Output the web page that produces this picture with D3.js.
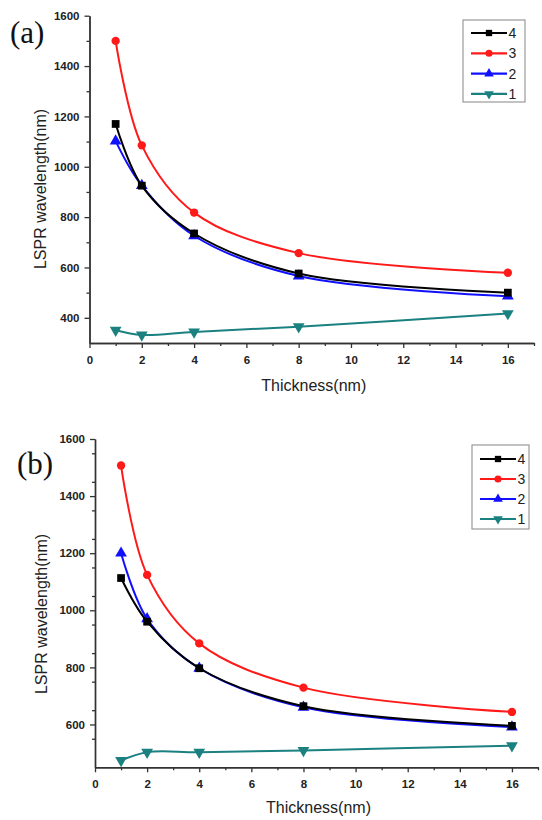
<!DOCTYPE html>
<html>
<head>
<meta charset="utf-8">
<script src="https://cdn.jsdelivr.net/npm/d3@7/dist/d3.min.js"></script>
<style>
  html, body { margin: 0; padding: 0; background: #fff; }
  svg { display: block; }
</style>
</head>
<body>
<svg id="chart" width="542" height="820"></svg>
<script>
// ---- Data ----
const thickness = [1, 2, 4, 8, 16];
const seriesNames = ["4", "3", "2", "1"];
const seriesColors = ["#000000", "#ff1a1a", "#1010ff", "#1a8080"];
const seriesSymbols = ["square", "circle", "triangle", "triangleDown"];

const panelA_4 = [1170, 925, 735, 576, 500];
const panelA_3 = [1500, 1085, 818, 657, 579];
const panelA_2 = [1102, 925, 726, 566, 486];
const panelA_1 = [351, 332, 344, 365, 417];

const panelB_4 = [1113, 960, 797, 664, 595];
const panelB_3 = [1507, 1124, 884, 729, 644];
const panelB_2 = [1200, 970, 797, 660, 591];
const panelB_1 = [474, 503, 503, 509, 526];

const xTicks = [0, 2, 4, 6, 8, 10, 12, 14, 16];
const yTicksA = [400, 600, 800, 1000, 1200, 1400, 1600];
const yTicksB = [600, 800, 1000, 1200, 1400, 1600];

const panels = [
  { label: "(a)", series: [panelA_4, panelA_3, panelA_2, panelA_1], yDomain: [300, 1600], yTicks: yTicksA,
    xRange: [89.5, 534], yRange: [343, 15.7],
    labelPos: [10, 43], legend: { x: 463, y: 20, w: 62, h: 82, row0: 33, dy: 20.3 },
    yLabel: { x: 46, y: 189 }, xLabelY: 391, xTickY: 364 },
  { label: "(b)", series: [panelB_4, panelB_3, panelB_2, panelB_1], yDomain: [450, 1600], yTicks: yTicksB,
    xRange: [95, 538], yRange: [767.3, 439],
    labelPos: [17, 474], legend: { x: 472, y: 445, w: 57, h: 84, row0: 459, dy: 20 },
    yLabel: { x: 47, y: 614 }, xLabelY: 813, xTickY: 788 }
];

const svg = d3.select("#chart");

function symbolPath(kind, size) {
  const t = { square: d3.symbolSquare, circle: d3.symbolCircle, triangle: d3.symbolTriangle, triangleDown: d3.symbolTriangle }[kind];
  return d3.symbol().type(t).size(size)();
}

panels.forEach(p => {
  const g = svg.append("g");
  const x = d3.scaleLinear().domain([0, 17]).range(p.xRange);
  const y = d3.scaleLinear().domain(p.yDomain).range(p.yRange);

  const xMinor = d3.range(0, 18, 1).filter(v => v % 2 !== 0);
  const yMinor = d3.range(p.yDomain[0], 1600, 100).filter(v => !p.yTicks.includes(v) && v > p.yDomain[0]);

  const xAxis = d3.axisBottom(x).tickValues(xTicks).tickFormat(d3.format("d")).tickSize(5).tickSizeOuter(0);
  const xAxisMinor = d3.axisBottom(x).tickValues(xMinor).tickFormat("").tickSize(3).tickSizeOuter(0);
  const yAxis = d3.axisLeft(y).tickValues(p.yTicks).tickFormat(d3.format("d")).tickSize(5).tickSizeOuter(0);
  const yAxisMinor = d3.axisLeft(y).tickValues(yMinor).tickFormat("").tickSize(3).tickSizeOuter(0);

  const axStyle = sel => {
    sel.selectAll("path.domain").attr("stroke", "#333").attr("stroke-width", 1.4);
    sel.selectAll(".tick line").attr("stroke", "#333").attr("stroke-width", 1.3);
    sel.selectAll(".tick text").attr("font-family", "Liberation Sans, Arial, sans-serif")
      .attr("font-weight", "bold").attr("font-size", 11.5).attr("fill", "#222");
  };

  g.append("g").attr("transform", `translate(0,${p.yRange[0]})`).call(xAxisMinor).call(axStyle);
  const gx = g.append("g").attr("transform", `translate(0,${p.yRange[0]})`).call(xAxis).call(axStyle);
  gx.selectAll(".tick text").attr("dy", null).attr("y", p.xTickY - p.yRange[0]);
  g.append("g").attr("transform", `translate(${p.xRange[0]},0)`).call(yAxisMinor).call(axStyle);
  const gy = g.append("g").attr("transform", `translate(${p.xRange[0]},0)`).call(yAxis).call(axStyle);
  gy.selectAll(".tick text").attr("x", -10);

  g.append("text").attr("x", (p.xRange[0] + p.xRange[1]) / 2 + 2).attr("y", p.xLabelY)
    .attr("text-anchor", "middle").attr("font-family", "Liberation Sans, Arial, sans-serif")
    .attr("font-size", 16).attr("fill", "#222").text("Thickness(nm)");
  g.append("text").attr("transform", `translate(${p.yLabel.x},${p.yLabel.y}) rotate(-90)`)
    .attr("text-anchor", "middle").attr("font-family", "Liberation Sans, Arial, sans-serif")
    .attr("font-size", 16).attr("fill", "#222").text("LSPR wavelength(nm)");

  g.append("text").attr("x", p.labelPos[0]).attr("y", p.labelPos[1])
    .attr("font-family", "Liberation Serif, Times New Roman, serif")
    .attr("font-size", 31).attr("fill", "#111").text(p.label);

  const line = d3.line().x((d, i) => x(thickness[i])).y(d => y(d)).curve(d3.curveCatmullRom.alpha(0.5));

  [3, 2, 1, 0].forEach(si => {
    const vals = p.series[si];
    g.append("path").datum(vals).attr("d", line).attr("fill", "none")
      .attr("stroke", seriesColors[si]).attr("stroke-width", 2);
    g.selectAll(null).data(vals).enter().append("path")
      .attr("d", symbolPath(seriesSymbols[si], seriesSymbols[si] === "circle" ? 55 : 60))
      .attr("transform", (d, i) => `translate(${x(thickness[i])},${y(d)})${seriesSymbols[si] === "triangleDown" ? " rotate(180)" : ""}`)
      .attr("fill", seriesColors[si]);
  });

  const L = p.legend;
  g.append("rect").attr("x", L.x).attr("y", L.y).attr("width", L.w).attr("height", L.h)
    .attr("fill", "#fff").attr("stroke", "#999").attr("stroke-width", 1.2);
  seriesNames.forEach((name, si) => {
    const ry = L.row0 + si * L.dy;
    const lx0 = L.x + 8, lx1 = L.x + 44;
    g.append("line").attr("x1", lx0).attr("x2", lx1).attr("y1", ry).attr("y2", ry)
      .attr("stroke", seriesColors[si]).attr("stroke-width", 2.2);
    g.append("path").attr("d", symbolPath(seriesSymbols[si], 40))
      .attr("transform", `translate(${(lx0 + lx1) / 2},${ry})${seriesSymbols[si] === "triangleDown" ? " rotate(180)" : ""}`)
      .attr("fill", seriesColors[si]);
    g.append("text").attr("x", lx1 + 1.5).attr("y", ry + 5).attr("font-family", "Liberation Sans, Arial, sans-serif")
      .attr("font-size", 14).attr("fill", "#222").text(name);
  });
});
</script>
</body>
</html>
